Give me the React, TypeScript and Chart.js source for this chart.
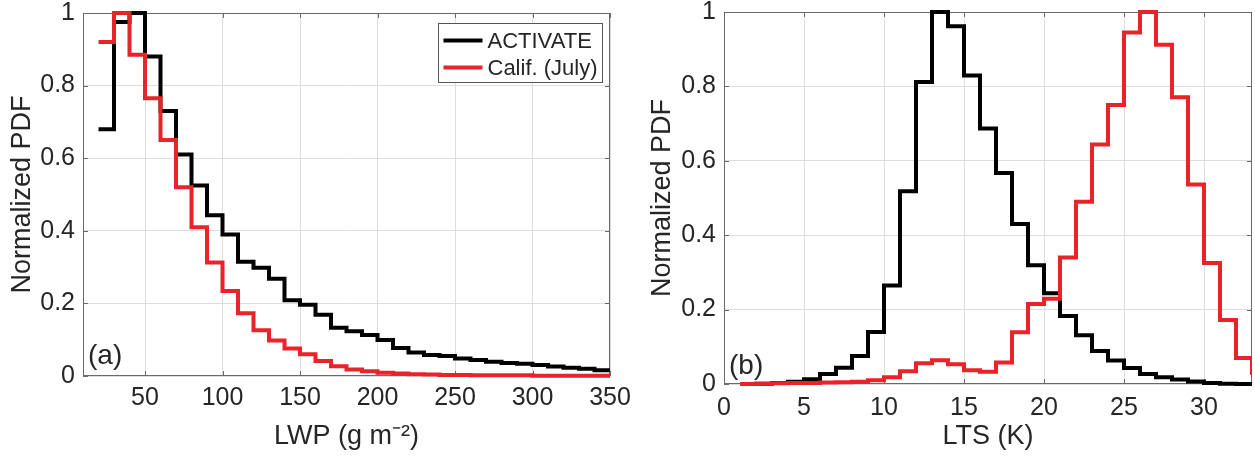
import React, { useEffect, useRef } from 'react';
import { Chart, registerables } from 'chart.js';

Chart.register(...registerables);

// ---------------- data ----------------
// (a) LWP histogram: left bin edges (g m-2), last right edge, normalized PDF per bin
const LWP_BIN_EDGES = [20, 30, 40, 50, 60, 70, 80, 90, 100, 110, 120, 130, 140, 150, 160, 170, 180, 190, 200, 210, 220, 230, 240, 250, 260, 270, 280, 290, 300, 310, 320, 330, 340];
const LWP_LAST_EDGE = 350;
const LWP_ACTIVATE = [0.68, 0.975, 1.0, 0.88, 0.73, 0.61, 0.525, 0.443, 0.39, 0.315, 0.298, 0.268, 0.209, 0.196, 0.169, 0.133, 0.123, 0.113, 0.099, 0.077, 0.065, 0.058, 0.055, 0.048, 0.044, 0.039, 0.036, 0.034, 0.03, 0.026, 0.023, 0.02, 0.016];
const LWP_CALIF = [0.92, 1.0, 0.885, 0.765, 0.65, 0.52, 0.41, 0.313, 0.234, 0.173, 0.126, 0.098, 0.076, 0.06, 0.041, 0.027, 0.018, 0.013, 0.009, 0.007, 0.005, 0.004, 0.003, 0.003, 0.002, 0.002, 0.002, 0.002, 0.001, 0.001, 0.001, 0.001, 0.001];
const LWP_X_TICKS = [50, 100, 150, 200, 250, 300, 350];
const LWP_X_LABELS = ['50', '100', '150', '200', '250', '300', '350'];

// (b) LTS histogram: left bin edges (K), last right edge, normalized PDF per bin
const LTS_BIN_EDGES = [1, 2, 3, 4, 5, 6, 7, 8, 9, 10, 11, 12, 13, 14, 15, 16, 17, 18, 19, 20, 21, 22, 23, 24, 25, 26, 27, 28, 29, 30, 31, 32, 33];
const LTS_LAST_EDGE = 34;
const LTS_ACTIVATE = [0.0, 0.001, 0.003, 0.006, 0.013, 0.027, 0.044, 0.075, 0.14, 0.265, 0.518, 0.812, 1.0, 0.962, 0.829, 0.687, 0.567, 0.43, 0.319, 0.244, 0.183, 0.131, 0.089, 0.063, 0.043, 0.027, 0.018, 0.012, 0.007, 0.003, 0.001, 0.0, 0.0];
const LTS_CALIF = [0.0, 0.001, 0.002, 0.003, 0.003, 0.004, 0.005, 0.006, 0.01, 0.018, 0.034, 0.056, 0.064, 0.053, 0.037, 0.033, 0.058, 0.139, 0.215, 0.229, 0.34, 0.49, 0.644, 0.75, 0.945, 1.0, 0.912, 0.771, 0.536, 0.325, 0.172, 0.07, 0.025];
const LTS_X_TICKS = [0, 5, 10, 15, 20, 25, 30];
const LTS_X_LABELS = ['0', '5', '10', '15', '20', '25', '30'];

const Y_TICKS = [0, 0.2, 0.4, 0.6, 0.8, 1];
const Y_LABELS = ['0', '0.2', '0.4', '0.6', '0.8', '1'];

const SERIES_NAMES = ['ACTIVATE', 'Calif. (July)'];

// ---------------- styles ----------------
const FONT = "'Liberation Sans', Arial, Helvetica, sans-serif";
const BLACK = '#000000';
const RED = '#e8232a';
const GRID = '#dedede';
const AXIS = '#6a6a6a';
const TEXT = '#262626';

const toPoints = (edges: number[], values: number[], lastEdge: number) => [
  ...edges.map((x, i) => ({ x, y: values[i] })),
  { x: lastEdge, y: values[values.length - 1] },
];

type PanelCfg = {
  edges: number[];
  lastEdge: number;
  black: number[];
  red: number[];
  xMin: number;
  xMax: number;
  xTicks: number[];
  xLabels: string[];
  xTitle: string;
  panelLabel: string;
  padTop: number;
  padRight: number;
  yWidth: number;
  xHeight: number;
  xTickPad: number;
  showLegend: boolean;
  labelDy: number;
};

function makeConfig(c: PanelCfg): any {
  const framePlugin = {
    id: 'frame',
    beforeDatasetsDraw(chart: any) {
      const { ctx, chartArea } = chart;
      const { left, right, top, bottom } = chartArea;
      const xs = chart.scales.x;
      const ys = chart.scales.y;
      ctx.save();
      ctx.strokeStyle = AXIS;
      ctx.lineWidth = 1;
      ctx.strokeRect(Math.round(left) + 0.5, Math.round(top) + 0.5, Math.round(right - left) - 1, Math.round(bottom - top) - 1);
      const tl = 5;
      ctx.beginPath();
      xs.ticks.forEach((t: any) => {
        const px = Math.round(xs.getPixelForValue(t.value)) + 0.5;
        ctx.moveTo(px, bottom);
        ctx.lineTo(px, bottom - tl);
        ctx.moveTo(px, top);
        ctx.lineTo(px, top + tl);
      });
      ys.ticks.forEach((t: any) => {
        const py = Math.round(ys.getPixelForValue(t.value)) + 0.5;
        ctx.moveTo(left, py);
        ctx.lineTo(left + tl, py);
        ctx.moveTo(right, py);
        ctx.lineTo(right - tl, py);
      });
      ctx.stroke();
      ctx.restore();
    },
    afterDraw(chart: any) {
      const { ctx, chartArea } = chart;
      const { left, right, top, bottom } = chartArea;
      ctx.save();
      // panel label
      ctx.fillStyle = TEXT;
      ctx.font = `28px ${FONT}`;
      ctx.textAlign = 'left';
      ctx.textBaseline = 'middle';
      ctx.fillText(c.panelLabel, left + 5, bottom - c.labelDy);
      // legend
      if (c.showLegend) {
        const bw = 164;
        const bh = 59;
        const bx = Math.round(right - 8 - bw) + 0.5;
        const by = Math.round(top + 10) + 0.5;
        ctx.fillStyle = '#ffffff';
        ctx.fillRect(bx, by, bw, bh);
        ctx.strokeStyle = '#555555';
        ctx.lineWidth = 1;
        ctx.strokeRect(bx, by, bw, bh);
        ctx.font = `22px ${FONT}`;
        ctx.textBaseline = 'middle';
        chart.data.datasets.forEach((ds: any, i: number) => {
          const yy = by + 17 + i * 27;
          ctx.strokeStyle = ds.borderColor;
          ctx.lineWidth = 4;
          ctx.beginPath();
          ctx.moveTo(bx + 5, yy);
          ctx.lineTo(bx + 44, yy);
          ctx.stroke();
          ctx.fillStyle = TEXT;
          ctx.fillText(ds.label, bx + 49, yy + 1);
        });
      }
      ctx.restore();
    },
  };

  const lineBase = {
    stepped: 'before',
    borderWidth: 4,
    pointRadius: 0,
    fill: false,
    borderJoinStyle: 'miter',
    borderCapStyle: 'butt',
    clip: { left: 0, right: 0, top: 4, bottom: 4 },
  };

  return {
    type: 'line',
    data: {
      datasets: [
        { ...lineBase, label: SERIES_NAMES[0], data: toPoints(c.edges, c.black, c.lastEdge), borderColor: BLACK, order: 1 },
        { ...lineBase, label: SERIES_NAMES[1], data: toPoints(c.edges, c.red, c.lastEdge), borderColor: RED, order: 0 },
      ],
    },
    options: {
      responsive: false,
      maintainAspectRatio: false,
      animation: false,
      events: [],
      parsing: true,
      layout: { padding: { left: 0, right: c.padRight, top: c.padTop, bottom: 0 } },
      plugins: { legend: { display: false }, tooltip: { enabled: false }, title: { display: false } },
      scales: {
        x: {
          type: 'linear',
          min: c.xMin,
          max: c.xMax,
          afterBuildTicks: (axis: any) => {
            axis.ticks = c.xTicks.map((v) => ({ value: v }));
          },
          afterFit: (s: any) => {
            s.height = c.xHeight;
            s.paddingLeft = 0;
            s.paddingRight = 0;
          },
          grid: { color: GRID, lineWidth: 1, drawTicks: false },
          border: { display: false },
          ticks: {
            autoSkip: false,
            maxRotation: 0,
            padding: c.xTickPad,
            color: TEXT,
            font: { family: FONT, size: 25 },
            callback: (_v: any, i: number) => c.xLabels[i],
          },
          title: {
            display: true,
            text: c.xTitle,
            color: TEXT,
            font: { family: FONT, size: 27 },
            padding: { top: 0, bottom: 3 },
          },
        },
        y: {
          type: 'linear',
          min: 0,
          max: 1,
          afterBuildTicks: (axis: any) => {
            axis.ticks = Y_TICKS.map((v) => ({ value: v }));
          },
          afterFit: (s: any) => {
            s.width = c.yWidth;
            s.paddingTop = 0;
            s.paddingBottom = 0;
          },
          grid: { color: GRID, lineWidth: 1, drawTicks: false },
          border: { display: false },
          ticks: {
            autoSkip: false,
            padding: 8,
            color: TEXT,
            font: { family: FONT, size: 25 },
            callback: (_v: any, i: number) => Y_LABELS[i],
          },
          title: {
            display: true,
            text: 'Normalized PDF',
            color: TEXT,
            font: { family: FONT, size: 27 },
            padding: { top: 6, bottom: 0 },
          },
        },
      },
    },
    plugins: [framePlugin],
  };
}

const PANEL_A: PanelCfg = {
  edges: LWP_BIN_EDGES,
  lastEdge: LWP_LAST_EDGE,
  black: LWP_ACTIVATE,
  red: LWP_CALIF,
  xMin: 10,
  xMax: 350,
  xTicks: LWP_X_TICKS,
  xLabels: LWP_X_LABELS,
  xTitle: 'LWP (g m\u207B\u00B2)',
  panelLabel: '(a)',
  padTop: 13,
  padRight: 30,
  yWidth: 83,
  xHeight: 80,
  xTickPad: 7,
  showLegend: true,
  labelDy: 20,
};

const PANEL_B: PanelCfg = {
  edges: LTS_BIN_EDGES,
  lastEdge: LTS_LAST_EDGE,
  black: LTS_ACTIVATE,
  red: LTS_CALIF,
  xMin: 0,
  xMax: 33,
  xTicks: LTS_X_TICKS,
  xLabels: LTS_X_LABELS,
  xTitle: 'LTS (K)',
  panelLabel: '(b)',
  padTop: 12,
  padRight: 3,
  yWidth: 84,
  xHeight: 72,
  xTickPad: 9,
  showLegend: false,
  labelDy: 18,
};

function Panel({ cfg, left, width, height }: { cfg: PanelCfg; left: number; width: number; height: number }) {
  const ref = useRef<HTMLCanvasElement | null>(null);
  useEffect(() => {
    if (!ref.current) return;
    const chart = new Chart(ref.current, makeConfig(cfg));
    return () => chart.destroy();
  }, [cfg]);
  return (
    <div style={{ position: 'absolute', left, top: 0, width, height }}>
      <canvas ref={ref} width={width} height={height} style={{ width, height, display: 'block' }} />
    </div>
  );
}

export default function App() {
  return (
    <div style={{ position: 'absolute', left: 0, top: 0, width: 1255, height: 456, background: '#ffffff', overflow: 'hidden' }}>
      <Panel cfg={PANEL_A} left={0} width={640} height={456} />
      <Panel cfg={PANEL_B} left={640} width={615} height={456} />
    </div>
  );
}
